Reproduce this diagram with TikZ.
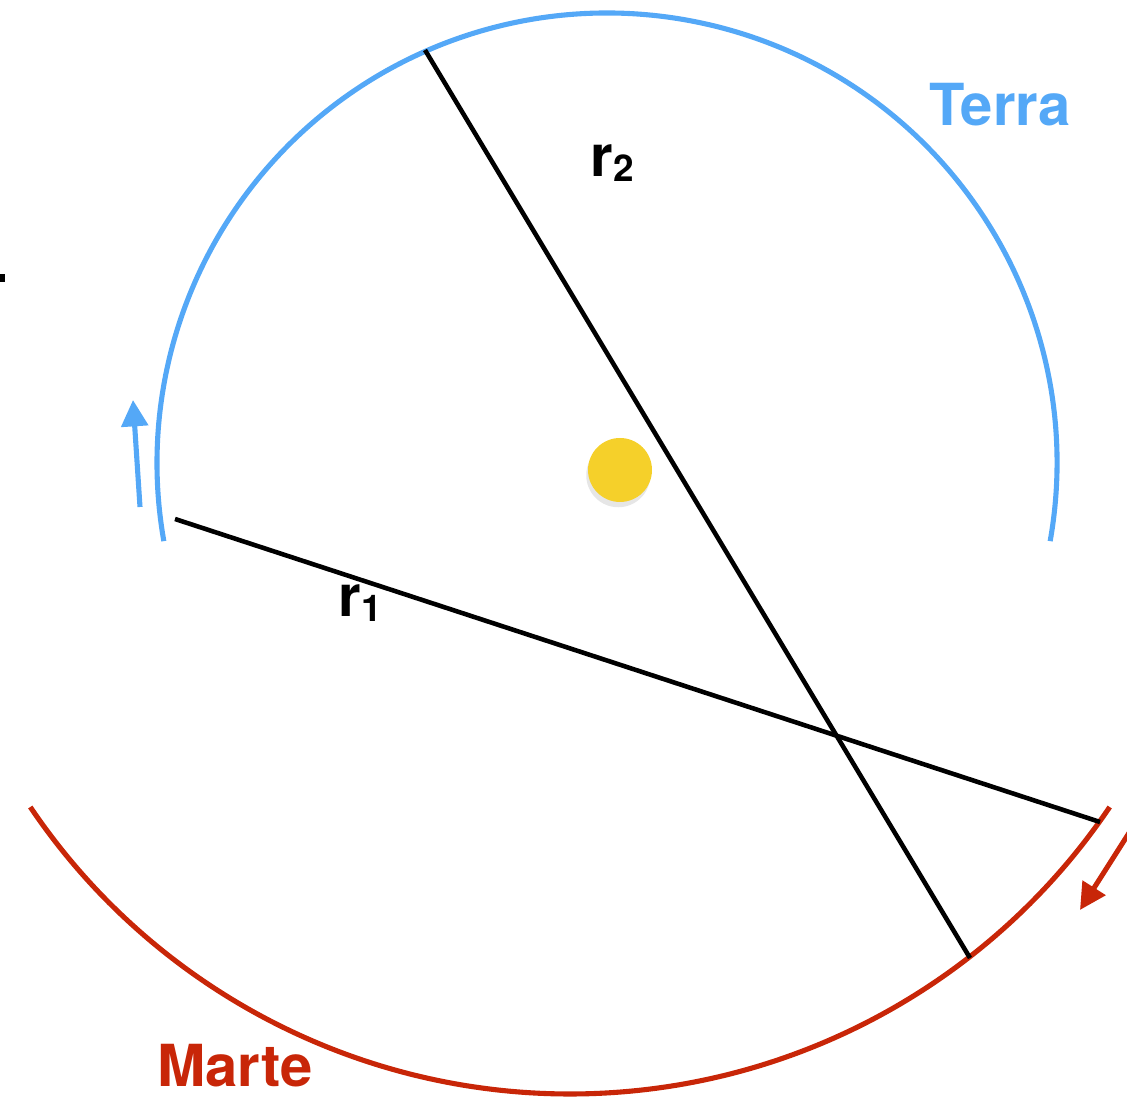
\documentclass[tikz,border=0pt]{standalone}
\usepackage{fontspec}
\setmainfont{TeX Gyre Heros}
\usetikzlibrary{arrows.meta,shadows}
\definecolor{terrablue}{RGB}{84,168,247}
\definecolor{martered}{RGB}{200,38,8}
\definecolor{sunyellow}{RGB}{245,208,42}
\newcommand{\pedice}[1]{\raisebox{-3pt}{\fontsize{21}{21}\selectfont #1}}
\begin{document}
\begin{tikzpicture}[x=0.02cm, y=0.02cm,
	every node/.style={font=\fontsize{33}{36}\selectfont\bfseries, inner sep=1pt},
	orbit/.style={line width=2.9pt},
	chord/.style={line width=2.6pt, black},
	motion/.style={line width=2.9pt, -{Triangle[length=15pt, width=15pt]}}]
	\useasboundingbox (0,0) rectangle (1127,1098);
	% orbits
	\draw[orbit, terrablue] (607,635) ++(-10:450) arc[start angle=-10, end angle=190, radius=450];
	\draw[orbit, martered] (570,655) ++(214:651) arc[start angle=214, end angle=326, radius=651];
	% sun
	\node[circle, fill=sunyellow, minimum size=1.28cm, inner sep=0pt,
		drop shadow={shadow xshift=-1pt, shadow yshift=-3pt, opacity=0.2}] (sole) at (620,628) {};
	% lines of sight
	\coordinate (t1) at (175,579); \coordinate (m1) at (1100,276);
	\coordinate (t2) at (425,1048); \coordinate (m2) at (970,140);
	\draw[chord] (t1) -- (m1);
	\draw[chord] (t2) -- (m2);
	\node (r1) at (360,495) {r\pedice{1}};
	\node (r2) at (612,935) {r\pedice{2}};
	% directions of motion
	\coordinate (ta) at (140,591); \coordinate (tb) at (133,698);
	\coordinate (ma) at (1136,276); \coordinate (mb) at (1080,188);
	\draw[motion, terrablue] (ta) -- (tb);
	\draw[motion, martered] (ma) -- (mb);
	\node[text=terrablue] (terra) at (1000,993) {Terra};
	\node[text=martered] (marte) at (235,32) {Marte};
	\fill (0,816) rectangle (5,824);
\end{tikzpicture}
\end{document}
